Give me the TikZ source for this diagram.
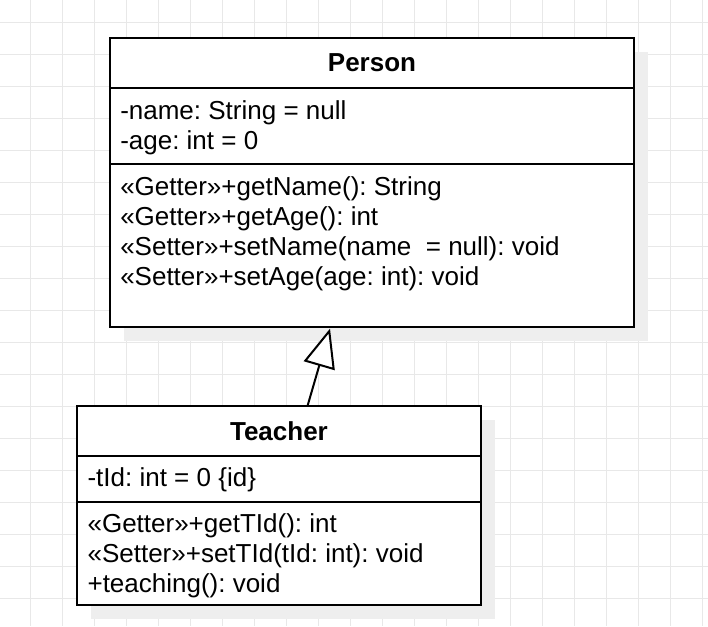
\documentclass[tikz,border=0pt]{standalone}
\usepackage{fontspec}
\setmainfont{Liberation Sans}
\usetikzlibrary{positioning,arrows.meta,shadows}
\frenchspacing

\definecolor{gridgray}{RGB}{232,232,232}
\definecolor{shadowgray}{RGB}{238,238,238}

\tikzset{
  gridline/.style = {draw = gridgray, line width = 0.75pt},
  umlbox/.style = {draw, line width = 1.5pt, fill = white, shape = rectangle, outer sep = 0pt, inner sep = 0pt,
    drop shadow = {shadow xshift = 10.5pt, shadow yshift = -10.5pt, fill = shadowgray, opacity = 1}},
  umltitle/.style = {umlbox, font = \bfseries\fontsize{19.5}{22.5}\selectfont},
  umltext/.style = {anchor = north west, align = left, inner sep = 0pt, font = \fontsize{19.5}{22.5}\selectfont},
  genline/.style = {line width = 1.5pt, -{Triangle[length = 29pt, width = 24pt, fill = white]}}
}

\begin{document}
\begin{tikzpicture}[x = 0.75pt, y = -0.75pt]
\useasboundingbox (0,0) rectangle (708,626);
\fill[white] (0,0) rectangle (708,626);
% grid
\foreach \i in {0,...,21} \draw[gridline] ({30.7+32*\i},0) -- ({30.7+32*\i},626);
\foreach \j in {0,...,18} \draw[gridline] (0,{22.7+32*\j}) -- (708,{22.7+32*\j});

% Person
\node[umltitle, minimum width = 393pt, minimum height = 37.7pt, anchor = north west] (person) at (110,37.7) {Person};
\node[umlbox, minimum width = 393pt, minimum height = 57pt, below = 0pt of person] (personattr) {};
\node[umlbox, minimum width = 393pt, minimum height = 122.5pt, below = 0pt of personattr] (personops) {};
\node[umltext, below right = 9pt and 7.5pt of personattr.north west] (personattrtext)
  {-name: String = null\\-age: int = 0};
\node[umltext, below right = 9pt and 7.5pt of personops.north west] (personopstext)
  {«Getter»+getName(): String\\«Getter»+getAge(): int\\«Setter»+setName(name~~= null): void\\«Setter»+setAge(age: int): void};

% Teacher
\node[umltitle, minimum width = 302.5pt, minimum height = 37.3pt, anchor = north west] (teacher) at (77.3,406) {Teacher};
\node[umlbox, minimum width = 302.5pt, minimum height = 34.5pt, below = 0pt of teacher] (teacherattr) {};
\node[umlbox, minimum width = 302.5pt, minimum height = 77.7pt, below = 0pt of teacherattr] (teacherops) {};
\node[umltext, below right = 9pt and 7.5pt of teacherattr.north west] (teacherattrtext)
  {-tId: int = 0 \{id\}};
\node[umltext, below right = 9pt and 7.5pt of teacherops.north west] (teacheropstext)
  {«Getter»+getTId(): int\\«Setter»+setTId(tId: int): void\\+teaching(): void};

% generalization
\draw[genline] ([xshift = 21.4pt]teacher.north) -- ([xshift = -31.5pt, yshift = -1pt]personops.south);
\end{tikzpicture}
\end{document}
